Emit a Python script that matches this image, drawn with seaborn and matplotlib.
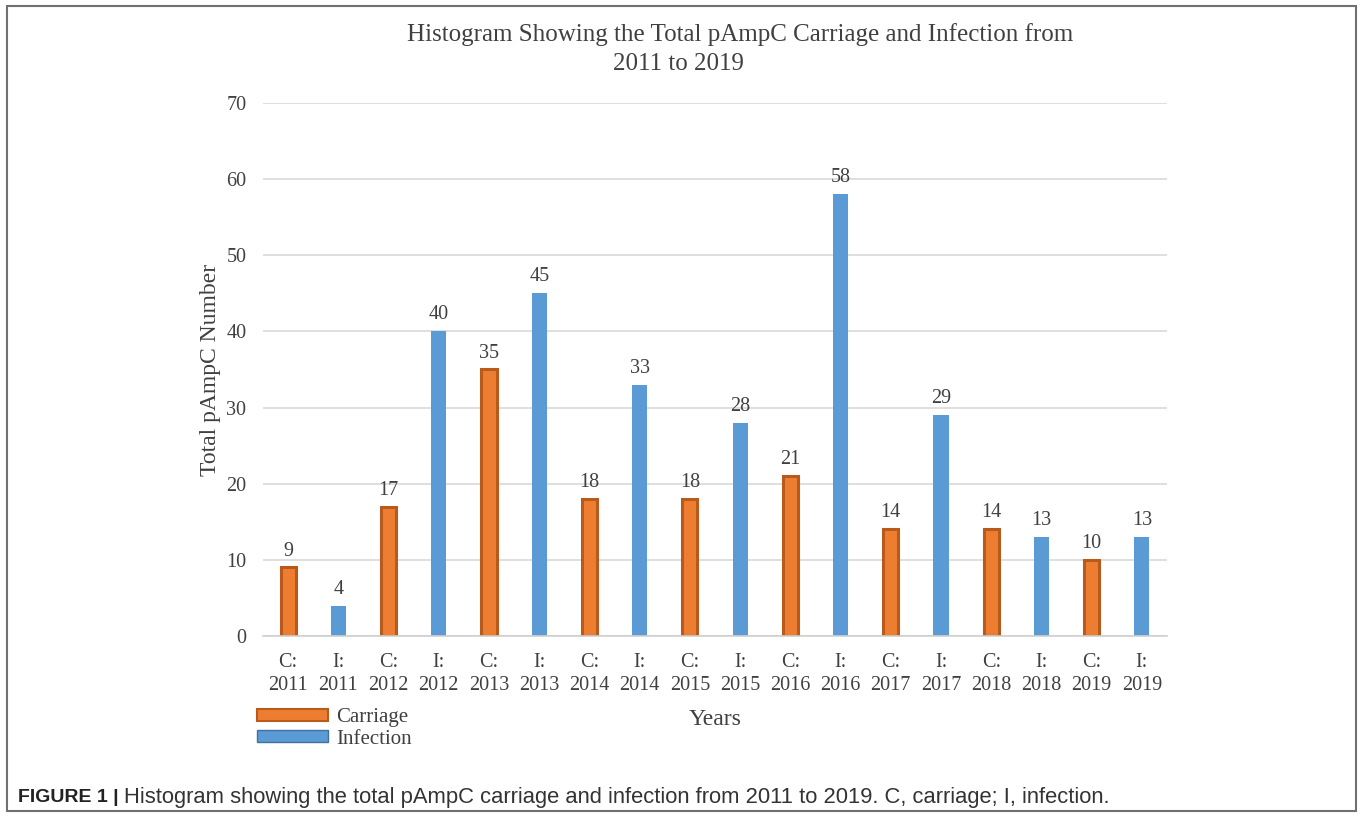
import pandas as pd
import matplotlib.pyplot as plt
import seaborn as sns
from matplotlib.patches import Rectangle, Patch

# values
labels = ['C:\n2011', 'I:\n2011', 'C:\n2012', 'I:\n2012', 'C:\n2013', 'I:\n2013',
          'C:\n2014', 'I:\n2014', 'C:\n2015', 'I:\n2015', 'C:\n2016', 'I:\n2016',
          'C:\n2017', 'I:\n2017', 'C:\n2018', 'I:\n2018', 'C:\n2019', 'I:\n2019']
counts = [9, 4, 17, 40, 35, 45, 18, 33, 18, 28, 21, 58, 14, 29, 14, 13, 10, 13]
kinds = ['Carriage' if l.startswith('C') else 'Infection' for l in labels]
kind_order = ['Carriage', 'Infection']

df = pd.DataFrame({'label': labels, 'count': counts, 'kind': kinds})

orange = '#ED7D31'
orange_edge = '#B85A1B'
blue = '#5B9BD5'
text_col = '#404040'

sns.set_style('white')
plt.rcParams['font.family'] = ['Liberation Serif', 'DejaVu Serif']

fig = plt.figure(figsize=(13.6, 8.16), dpi=100)
ax = fig.add_axes([0.1934, 0.2206, 0.6647, 0.6532])

sns.barplot(data=df, x='label', y='count', hue='kind', hue_order=kind_order,
            dodge=False, palette={'Carriage': orange, 'Infection': blue},
            saturation=1, width=0.3, ax=ax, legend=False)

for cont, k in zip(ax.containers, kind_order):
    for bar in cont:
        if k == 'Carriage':
            bar.set_edgecolor(orange_edge)
            bar.set_linewidth(2.2)
        else:
            bar.set_linewidth(0)
    ax.bar_label(cont, padding=5, fontsize=14.5, color=text_col)

ax.set_ylim(0, 70)
ax.set_xlim(-0.5, len(labels) - 0.5)
ax.set_yticks(range(0, 71, 10))
ax.yaxis.grid(True, color='#D9D9D9', linewidth=1.2)
ax.set_axisbelow(True)
for s in ['top', 'right', 'left']:
    ax.spines[s].set_visible(False)
ax.spines['bottom'].set_color('#D0D0D0')
ax.spines['bottom'].set_linewidth(1.2)
ax.tick_params(axis='both', length=0, labelsize=14.5, labelcolor=text_col)
ax.tick_params(axis='x', pad=12)
ax.tick_params(axis='y', pad=12)
for t in ax.get_xticklabels():
    t.set_linespacing(1.3)
ax.set_xlabel('Years', fontsize=17, color=text_col, labelpad=10)
ax.set_ylabel('Total pAmpC Number', fontsize=17, color=text_col, labelpad=4)

fig.text(0.544, 0.958, 'Histogram Showing the Total pAmpC Carriage and Infection from',
         ha='center', va='center', fontsize=18, color=text_col)
fig.text(0.4985, 0.922, '2011 to 2019',
         ha='center', va='center', fontsize=18, color=text_col)

handles = [Patch(facecolor=orange, edgecolor=orange_edge, linewidth=1.5, label='Carriage'),
           Patch(facecolor=blue, edgecolor='#41719C', linewidth=1.0, label='Infection')]
fig.legend(handles=handles, loc='upper left', bbox_to_anchor=(0.189, 0.132),
           frameon=False, fontsize=15, handlelength=3.4, handleheight=0.5,
           handletextpad=0.4, labelspacing=0.12, borderaxespad=0, borderpad=0,
           labelcolor=text_col)

# outer frame and caption
fig.patches.append(Rectangle((0.005, 0.006), 0.992, 0.987, transform=fig.transFigure,
                             fill=False, edgecolor='#707070', linewidth=1.5))
cap_font = ['Liberation Sans', 'DejaVu Sans']
head = fig.text(0.013, 0.023, 'FIGURE 1 |', fontsize=14, fontweight='bold',
                family=cap_font, color='#222222', va='center')
fig.canvas.draw()
bb = head.get_window_extent().transformed(fig.transFigure.inverted())
fig.text(bb.x1 + 0.004, 0.023,
         'Histogram showing the total pAmpC carriage and infection from 2011 to 2019. C, carriage; I, infection.',
         fontsize=15.8, family=cap_font, color='#333333', va='center')

plt.savefig('out.png', dpi=100)
